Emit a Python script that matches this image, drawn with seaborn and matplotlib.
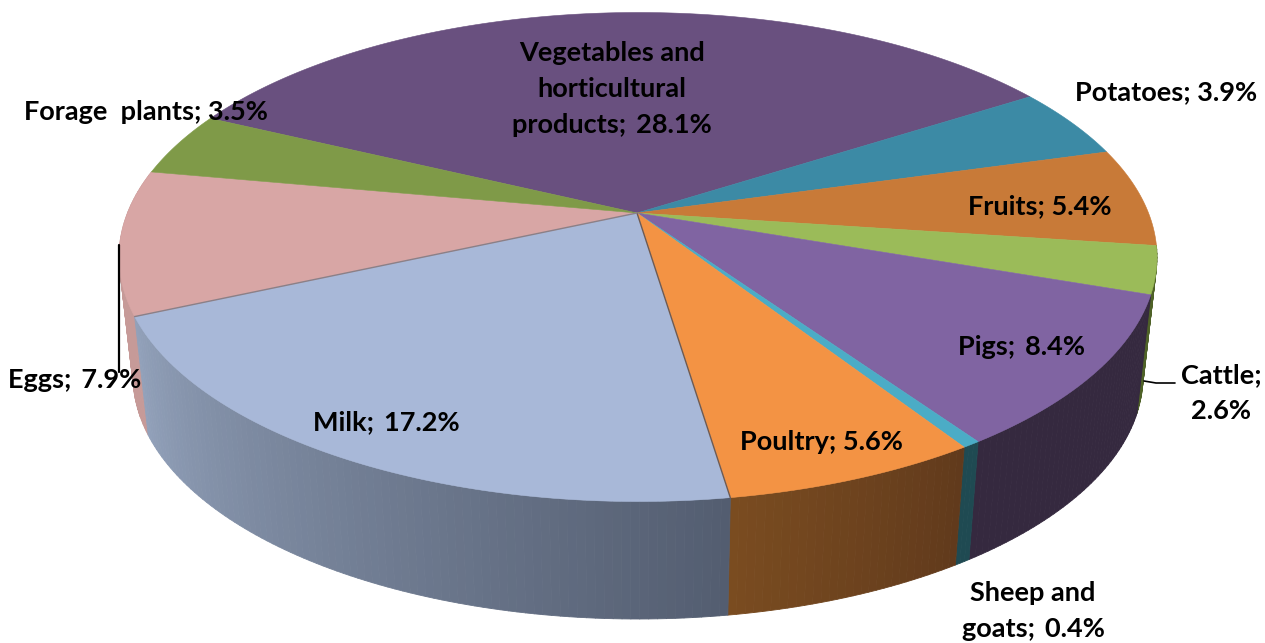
import numpy as np
import matplotlib
matplotlib.use("Agg")
import matplotlib.pyplot as plt
from matplotlib.colors import to_rgb
from matplotlib.collections import PolyCollection
import seaborn as sns

categories = ["Vegetables and\nhorticultural\nproducts", "Potatoes", "Fruits", "Cattle", "Pigs",
              "Sheep and\ngoats", "Poultry", "Milk", "Eggs", "Forage  plants"]
values = [28.1, 3.9, 5.4, 2.6, 8.4, 0.4, 5.6, 17.2, 7.9, 3.5]
separators = [" \u2009", " ", " ", "\n", " \u2009", " \u2009", " ", " \u2009", " \u2009", " "]
top_colors = ["#69507f", "#3c8aa5", "#c87a38", "#9bbb59", "#8064a2",
              "#4bacc6", "#f39344", "#a8b8d8", "#d8a6a5", "#7f9a48"]
side_start = ["#4f3c60", "#2d677c", "#96592a", "#4f6228", "#35293f",
              "#1f4a52", "#613a1c", "#535d70", "#c69a98", "#5f7336"]
side_end = ["#4f3c60", "#2d677c", "#96592a", "#4f6228", "#35293f",
            "#1f4a52", "#7a4c20", "#92a1ba", "#c69a98", "#5f7336"]
label_pos = [(612, 89), (1166, 92), (1040, 206), (1221, 393), (1021, 347),
             (1033, 611), (821, 442), (386, 422), (75, 380), (146, 112)]

sns.set_theme(style="white")
plt.rcParams["font.family"] = ["Lato", "DejaVu Sans"]
palette = sns.color_palette(top_colors)

TILT = 0.18
START = 154.5


def project(theta_deg, cx, cy, rx, ry):
    """Perspective projection of a unit-circle point onto the drawn ellipse."""
    t = np.radians(theta_deg)
    x, y = np.cos(t), np.sin(t)
    den = 1 + TILT * y
    u = x * np.sqrt(1 - TILT ** 2) / den
    v = (y + TILT) / den
    return cx + rx * u, cy - ry * v


TOP = (638, 257, 519, 244.5)
BOTTOM = (638, 376, 505, 243)

fig = plt.figure(figsize=(12.65, 6.43), dpi=100)
ax = fig.add_axes([0, 0, 1, 1])
ax.set_xlim(0, 1265)
ax.set_ylim(643, 0)
ax.axis("off")

shares = np.array(values) / np.sum(values) * 360
edges = START - np.concatenate([[0], np.cumsum(shares)])

# side walls: only the ones facing the viewer
for i in [8, 3, 4, 5, 6, 7]:
    a0, a1 = edges[i], edges[i + 1]
    n = max(3, int(abs(a1 - a0) * 1.2))
    th = np.linspace(a0, a1, n + 1)
    xt, yt = project(th, *TOP)
    xb, yb = project(th, *BOTTOM)
    c0, c1 = np.array(to_rgb(side_start[i])), np.array(to_rgb(side_end[i]))
    quads, cols = [], []
    for k in range(n):
        quads.append([(xt[k], yt[k]), (xt[k + 1], yt[k + 1]), (xb[k + 1], yb[k + 1]), (xb[k], yb[k])])
        cols.append(c0 + (c1 - c0) * (k + 0.5) / n)
    ax.add_collection(PolyCollection(quads, facecolors=cols, edgecolors=cols, linewidths=0.6,
                                     zorder=2 + (i == 7) + (i == 6)))

# top faces
cx0, cy0 = TOP[0] - 1, TOP[1] - TOP[3] * TILT
for i, col in enumerate(palette):
    th = np.linspace(edges[i], edges[i + 1], max(8, int(abs(shares[i]) * 2)))
    xr, yr = project(th, *TOP)
    ax.fill(np.r_[cx0, xr], np.r_[cy0, yr], color=col, lw=0.4, zorder=5)

# thin dark seams of the separated edges
for idx, seam in [(7, "#6f5a50"), (8, "#8a8088")]:
    xe, ye = project(edges[idx], *TOP)
    ax.plot([cx0, xe], [cy0, ye], color=seam, lw=1.0, zorder=6)

# leader lines
ax.plot([119, 119], [245, 372], color="black", lw=1.6, zorder=7)
ax.plot([1144, 1156, 1175], [381, 383, 383], color="black", lw=1.2, zorder=7)

for name, val, sep, (x, y) in zip(categories, values, separators, label_pos):
    ax.text(x, y, f"{name};{sep}{val}%", ha="center", va="center", fontsize=19.5,
            fontweight="bold", color="black", linespacing=1.6, zorder=8)

fig.savefig("out.png", dpi=100, facecolor="white")
